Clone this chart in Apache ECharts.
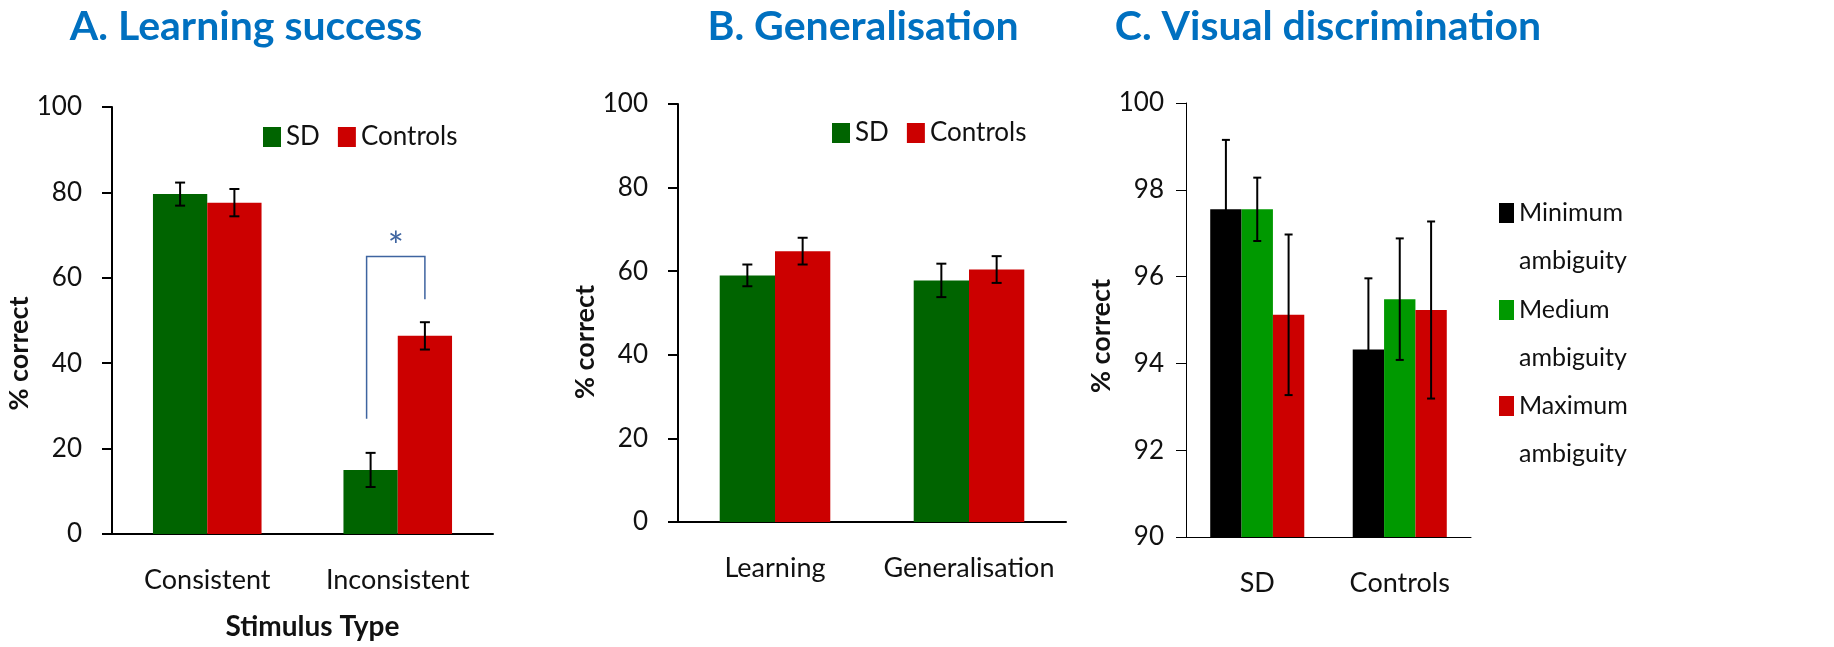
<!DOCTYPE html>
<html>
<head>
<meta charset="utf-8">
<script src="https://cdn.jsdelivr.net/npm/echarts@6/dist/echarts.min.js"></script>
<style>
html, body { margin: 0; padding: 0; background: #fff; }
#main { width: 1834px; height: 647px; }
</style>
</head>
<body>
<div id="main"></div>
<script>
// A. Learning success
const learnCats = ['Consistent', 'Inconsistent'];
const learnSD = [79.6, 15.0];
const learnSDErr = [2.7, 4.0];
const learnCtl = [77.6, 46.4];
const learnCtlErr = [3.2, 3.2];
const sigBracket = [1, 27, 65, 55]; // category, left foot, top, right foot

// B. Generalisation
const genCats = ['Learning', 'Generalisation'];
const genSD = [59.0, 57.8];
const genSDErr = [2.6, 4.0];
const genCtl = [64.8, 60.4];
const genCtlErr = [3.2, 3.2];

// C. Visual discrimination
const visCats = ['SD', 'Controls'];
const ambNames = ['Minimum ambiguity', 'Medium ambiguity', 'Maximum ambiguity'];
const visMin = [97.55, 94.32];
const visMinErr = [1.6, 1.64];
const visMed = [97.55, 95.48];
const visMedErr = [0.73, 1.4];
const visMax = [95.12, 95.23];
const visMaxErr = [1.85, 2.04];

const FONT = 'Lato, "Open Sans", sans-serif';
const TXT = '#111';
const GREEN = '#006400';
const RED = '#cc0000';

const chart = echarts.init(document.getElementById('main'));

function barOffset(api, idx, count, gap) {
  const band = api.size([1, 0])[0];
  const group = band * (1 - gap);
  const bw = group / count;
  return -group / 2 + bw * (idx + 0.5);
}

function errorSeries(axis, values, errs, idx, count, gap, capW) {
  return {
    type: 'custom',
    xAxisIndex: axis,
    yAxisIndex: axis,
    silent: true,
    z: 10,
    data: values.map((v, i) => [i, v - errs[i], v + errs[i]]),
    renderItem(params, api) {
      const lo = api.coord([api.value(0), api.value(1)]);
      const hi = api.coord([api.value(0), api.value(2)]);
      const x = lo[0] + barOffset(api, idx, count, gap);
      const st = { stroke: '#000', lineWidth: 2 };
      return {
        type: 'group',
        children: [
          { type: 'line', shape: { x1: x, y1: lo[1], x2: x, y2: hi[1] }, style: st },
          { type: 'line', shape: { x1: x - capW, y1: lo[1], x2: x + capW, y2: lo[1] }, style: st },
          { type: 'line', shape: { x1: x - capW, y1: hi[1], x2: x + capW, y2: hi[1] }, style: st }
        ]
      };
    }
  };
}

function xAxisCfg(grid, cats, width) {
  return {
    type: 'category',
    gridIndex: grid,
    data: cats,
    axisLine: { lineStyle: { color: '#000', width: width } },
    axisTick: { length: 11, lineStyle: { color: '#000', width: width } },
    axisLabel: { interval: 0, color: TXT, fontSize: 27, fontFamily: FONT, margin: 33 }
  };
}

function yAxisCfg(grid, min, max, step, width, gap, margin, shift) {
  return {
    type: 'value',
    gridIndex: grid,
    min: min,
    max: max,
    interval: step,
    name: '% correct',
    nameLocation: 'middle',
    nameGap: gap,
    nameTextStyle: { color: TXT, fontSize: 27, fontWeight: 'bold', fontFamily: FONT, padding: [0, shift * 2, 0, 0] },
    splitLine: { show: false },
    axisLine: { show: true, lineStyle: { color: '#000', width: width } },
    axisTick: { show: true, length: 10, lineStyle: { color: '#000', width: width } },
    axisLabel: { color: TXT, fontSize: 26, fontFamily: FONT, margin: margin }
  };
}

const legendText = { color: TXT, fontSize: 26, fontFamily: FONT, lineHeight: 30 };
const GAP_AB = 0.43;
const GAP_C = 0.34;

const option = {
  backgroundColor: '#fff',
  animation: false,
  graphic: [
    { type: 'text', x: 246, y: 6, style: { text: 'A. Learning success', textAlign: 'center', fill: '#0070c0', font: 'bold 41px ' + FONT } },
    { type: 'text', x: 863, y: 6, style: { text: 'B. Generalisation', textAlign: 'center', fill: '#0070c0', font: 'bold 41px ' + FONT } },
    { type: 'text', x: 1328, y: 6, style: { text: 'C. Visual discrimination', textAlign: 'center', fill: '#0070c0', font: 'bold 41px ' + FONT } }
  ],
  legend: [
    { left: 263, top: 122, padding: 0, icon: 'rect', itemWidth: 18, itemHeight: 20, itemGap: 18, data: ['SD', 'Controls'], textStyle: legendText },
    { left: 832, top: 118, padding: 0, icon: 'rect', itemWidth: 18, itemHeight: 20, itemGap: 18, data: ['SD', 'Controls'], textStyle: legendText },
    ...ambNames.map((n, i) => ({
      left: 1499,
      top: [141, 238, 334][i],
      padding: 0,
      icon: 'rect',
      itemWidth: 15,
      itemHeight: 20,
      data: [n],
      // leading blank line keeps the first word level with the swatch
      formatter: s => '\n' + s.replace(' ', '\n'),
      textStyle: { color: TXT, fontSize: 25, fontFamily: FONT, lineHeight: 48 }
    }))
  ],
  grid: [
    { left: 112, right: 1341, top: 107, bottom: 113 },
    { left: 678, right: 768, top: 104, bottom: 125 },
    { left: 1186, right: 363, top: 103, bottom: 110 }
  ],
  xAxis: [
    Object.assign(xAxisCfg(0, learnCats, 2), {
      name: 'Stimulus Type',
      nameLocation: 'middle',
      nameGap: 79,
      nameTextStyle: { color: TXT, fontSize: 28, fontWeight: 'bold', fontFamily: FONT, padding: [0, 0, 0, 20] }
    }),
    xAxisCfg(1, genCats, 2),
    xAxisCfg(2, visCats, 1)
  ],
  yAxis: [
    yAxisCfg(0, 0, 100, 20, 2, 68, 30, 33),
    yAxisCfg(1, 0, 100, 20, 2, 68, 30, 29),
    yAxisCfg(2, 90, 100, 2, 1, 42, 22, 16)
  ],
  series: [
    { type: 'bar', name: 'SD', xAxisIndex: 0, yAxisIndex: 0, data: learnSD, itemStyle: { color: GREEN }, barGap: '0%', barCategoryGap: '43%' },
    { type: 'bar', name: 'Controls', xAxisIndex: 0, yAxisIndex: 0, data: learnCtl, itemStyle: { color: RED }, barGap: '0%', barCategoryGap: '43%' },
    errorSeries(0, learnSD, learnSDErr, 0, 2, GAP_AB, 5),
    errorSeries(0, learnCtl, learnCtlErr, 1, 2, GAP_AB, 5),
    {
      type: 'custom',
      xAxisIndex: 0,
      yAxisIndex: 0,
      silent: true,
      z: 11,
      data: [sigBracket],
      renderItem(params, api) {
        const cat = api.value(0);
        const l = api.coord([cat, api.value(1)]);
        const t = api.coord([cat, api.value(2)]);
        const r = api.coord([cat, api.value(3)]);
        const xl = l[0] + barOffset(api, 0, 2, GAP_AB) - 4;
        const xr = l[0] + barOffset(api, 1, 2, GAP_AB);
        return {
          type: 'group',
          children: [
            { type: 'polyline', shape: { points: [[xl, l[1]], [xl, t[1]], [xr, t[1]], [xr, r[1]]] }, style: { stroke: '#3e64a0', lineWidth: 1.5, fill: null } },
            { type: 'text', x: (xl + xr) / 2, y: t[1] - 28, style: { text: '*', textAlign: 'center', fill: '#3e64a0', font: '38px ' + FONT } }
          ]
        };
      }
    },
    { type: 'bar', name: 'SD', xAxisIndex: 1, yAxisIndex: 1, data: genSD, itemStyle: { color: GREEN }, barGap: '0%', barCategoryGap: '43%' },
    { type: 'bar', name: 'Controls', xAxisIndex: 1, yAxisIndex: 1, data: genCtl, itemStyle: { color: RED }, barGap: '0%', barCategoryGap: '43%' },
    errorSeries(1, genSD, genSDErr, 0, 2, GAP_AB, 5),
    errorSeries(1, genCtl, genCtlErr, 1, 2, GAP_AB, 5),
    { type: 'bar', name: ambNames[0], xAxisIndex: 2, yAxisIndex: 2, data: visMin, itemStyle: { color: '#000' }, barGap: '0%', barCategoryGap: '34%' },
    { type: 'bar', name: ambNames[1], xAxisIndex: 2, yAxisIndex: 2, data: visMed, itemStyle: { color: '#009900' }, barGap: '0%', barCategoryGap: '34%' },
    { type: 'bar', name: ambNames[2], xAxisIndex: 2, yAxisIndex: 2, data: visMax, itemStyle: { color: RED }, barGap: '0%', barCategoryGap: '34%' },
    errorSeries(2, visMin, visMinErr, 0, 3, GAP_C, 4),
    errorSeries(2, visMed, visMedErr, 1, 3, GAP_C, 4),
    errorSeries(2, visMax, visMaxErr, 2, 3, GAP_C, 4)
  ]
};

chart.setOption(option);
window.addEventListener('resize', () => chart.resize());
</script>
</body>
</html>
